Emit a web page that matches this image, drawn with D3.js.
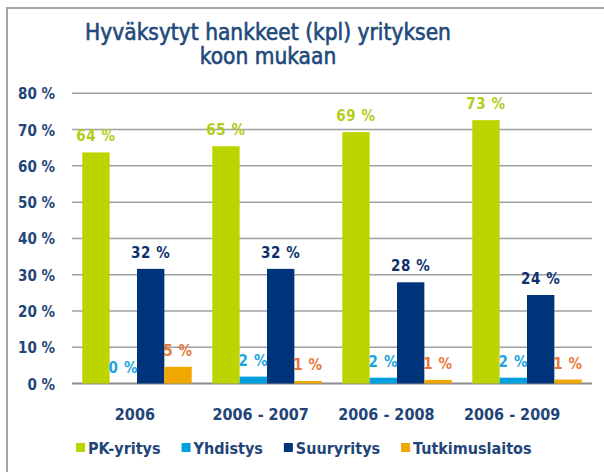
<!DOCTYPE html>
<html><head><meta charset="utf-8">
<script src="https://cdn.jsdelivr.net/npm/d3@7"></script>
<style>
html,body{margin:0;padding:0;background:#fff;}
svg{display:block;}
text{font-family:"DejaVu Sans Condensed","DejaVu Sans",sans-serif;font-stretch:condensed;}
</style></head>
<body>
<svg id="chart" width="604" height="472"></svg>
<script>
const titleLines = ["Hyväksytyt hankkeet (kpl) yrityksen", "koon mukaan"];
const categories = ["2006", "2006 - 2007", "2006 - 2008", "2006 - 2009"];
const seriesNames = ["PK-yritys", "Yhdistys", "Suuryritys", "Tutkimuslaitos"];
const pkValues = [63.7, 65.4, 69.3, 72.6];
const yhdistysValues = [0, 1.9, 1.6, 1.6];
const suurValues = [31.6, 31.6, 27.9, 24.4];
const tutkValues = [4.6, 0.7, 1.0, 1.1];
const yTicks = [0, 10, 20, 30, 40, 50, 60, 70, 80];

const barColors = ["#bcd500", "#009fe0", "#00347a", "#f0a800"];
const labelColors = ["#b3cc1a", "#1ca6e0", "#0d2f6e", "#e8793a"];
const textBlue = "#1f4579";

const seriesValues = [pkValues, yhdistysValues, suurValues, tutkValues];

const svg = d3.select("#chart");

// border
svg.append("path")
  .attr("d", "M7,472 L7,8 L604,8")
  .attr("fill", "none").attr("stroke", "#a6a6a6").attr("stroke-width", 2);

// title
svg.append("text")
  .attr("text-anchor", "middle")
  .attr("fill", "#1f4a7c")
  .attr("font-size", 22.5)
  .attr("font-weight", "normal")
  .attr("stroke", "#1f4a7c").attr("stroke-width", 0.6)
  .selectAll("tspan").data(titleLines).join("tspan")
  .attr("x", 268).attr("y", (d, i) => 39.5 + i * 24.5)
  .text(d => d);

const y = d3.scaleLinear().domain([0, 80]).range([383.5, 93.3]);
const x = d3.scaleBand().domain(categories).range([72, 592]).paddingInner(0.158).paddingOuter(0.079);
const x1 = d3.scaleBand().domain(seriesNames).range([0, x.bandwidth()]);
const xLabel = d3.scalePoint().domain(categories).range([72, 575]).padding(0.5);

// gridlines
svg.append("g").selectAll("line").data(yTicks).join("line")
  .attr("x1", 72).attr("x2", 592)
  .attr("y1", d => y(d)).attr("y2", d => y(d))
  .attr("stroke", d => d === 0 ? "#8c8c8c" : "#a0a0a0")
  .attr("stroke-width", d => d === 0 ? 2 : 1.5);

// y labels
svg.append("g").selectAll("text").data(yTicks).join("text")
  .attr("x", 55).attr("y", d => y(d) + 6)
  .attr("text-anchor", "end")
  .attr("fill", textBlue).attr("font-size", 15).attr("font-weight", "bold")
  .text(d => d + " %");

// bars
const groups = svg.append("g").selectAll("g").data(categories).join("g")
  .attr("transform", c => `translate(${x(c)},0)`);

groups.selectAll("rect")
  .data((c, ci) => seriesNames.map((s, si) => ({s, si, v: seriesValues[si][ci]})))
  .join("rect")
  .attr("x", d => x1(d.s))
  .attr("width", x1.bandwidth())
  .attr("y", d => y(d.v))
  .attr("height", d => y(0) - y(d.v))
  .attr("fill", d => barColors[d.si]);

groups.selectAll("text")
  .data((c, ci) => seriesNames.map((s, si) => ({s, si, v: seriesValues[si][ci]})))
  .join("text")
  .attr("x", d => x1(d.s) + x1.bandwidth() / 2)
  .attr("y", d => y(d.v) - 11)
  .attr("text-anchor", "middle")
  .attr("fill", d => labelColors[d.si])
  .attr("font-size", 15).attr("font-weight", "bold")
  .attr("letter-spacing", 0.6)
  .text(d => Math.round(d.v) + " %");

// x labels
svg.append("g").selectAll("text").data(categories).join("text")
  .attr("x", c => xLabel(c)).attr("y", 419.5)
  .attr("text-anchor", "middle")
  .attr("fill", textBlue).attr("font-size", 16).attr("font-weight", "bold")
  .text(c => c);

// legend
const legend = svg.append("g");
let lx = 76;
seriesNames.forEach((s, i) => {
  legend.append("rect").attr("x", lx).attr("y", 443).attr("width", 9).attr("height", 9).attr("fill", barColors[i]);
  const t = legend.append("text").attr("x", lx + 12).attr("y", 453.5)
    .attr("fill", textBlue).attr("font-size", 16).attr("font-weight", "bold").text(s);
  lx += 12 + t.node().getComputedTextLength() + 21;
});
</script>
</body></html>
